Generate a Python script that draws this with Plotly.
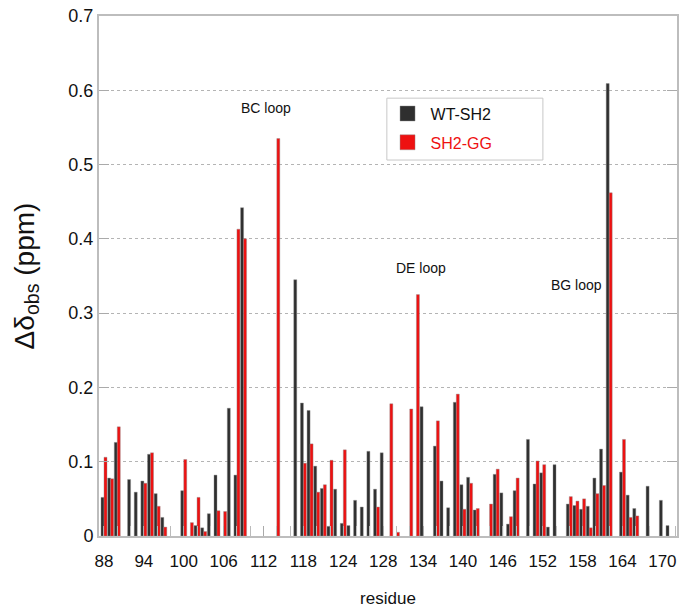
import plotly.graph_objects as go

# Bar slots along the sequence axis (one slot per residue position)
n_slots = 86
slots = list(range(n_slots))

# Chemical-shift perturbations (ppm); None = no value for that slot
wt_sh2 = [
    0.052, 0.078, 0.126, None, 0.076, 0.059, 0.074, 0.110, 0.057, 0.025,
    None, None, 0.061, None, 0.014, 0.011, 0.030, 0.082, None, 0.172,
    0.082, 0.442, None, None, None, None, None, None, None, 0.345,
    0.179, 0.169, 0.094, 0.064, 0.013, 0.063, 0.017, 0.014, 0.048, 0.039,
    0.114, 0.063, 0.112, None, None, None, None, None, 0.174, None,
    0.121, 0.074, 0.038, 0.180, 0.069, 0.079, 0.035, None, None, 0.083,
    0.058, 0.016, 0.061, None, 0.130, 0.070, 0.085, 0.012, 0.096, None,
    0.043, 0.041, 0.036, 0.040, 0.078, 0.117, 0.609, None, 0.086, 0.055,
    0.037, None, 0.067, None, 0.048, 0.014,
]

sh2_gg = [
    0.106, 0.077, 0.147, None, None, None, 0.071, 0.112, 0.040, 0.012,
    None, None, 0.103, 0.018, 0.052, 0.006, None, 0.034, 0.033, None,
    0.413, 0.400, None, None, None, None, 0.535, None, None, None,
    0.098, 0.124, 0.059, 0.069, 0.102, None, 0.116, None, None, None,
    None, 0.039, None, 0.178, 0.005, None, 0.171, 0.325, None, None,
    0.155, None, None, 0.191, 0.036, 0.071, 0.037, None, 0.043, 0.090,
    None, 0.026, 0.078, None, None, 0.101, 0.096, None, None, None,
    0.053, 0.047, 0.050, 0.011, 0.057, 0.068, 0.462, None, 0.130, 0.025,
    0.027, None, None, None, None, None,
]

tick_slots = [0, 6, 12, 18, 24, 30, 36, 42, 48, 54, 60, 66, 72, 78, 84]
tick_labels = ["88", "94", "100", "106", "112", "118", "124", "128",
               "134", "140", "146", "152", "158", "164", "170"]

loop_labels = ["BC loop", "DE loop", "BG loop"]
loop_x = [24.3, 47.7, 71.1]
loop_y = [0.576, 0.361, 0.338]

FONT = "Liberation Sans, Arial, sans-serif"
DARK = "#2f2f2f"
RED = "#ee1111"
GRID = "#b4b4b4"
EDGE = "rgba(140,140,140,0.7)"

fig = go.Figure()
fig.add_trace(go.Bar(
    x=slots, y=wt_sh2, name="WT-SH2", showlegend=False,
    marker=dict(color=DARK, line=dict(color=EDGE, width=0.6)),
))
fig.add_trace(go.Bar(
    x=slots, y=sh2_gg, name="SH2-GG", showlegend=False,
    marker=dict(color=RED, line=dict(color=EDGE, width=0.6)),
))

# Legend entries with large square swatches
for name, col, label in [("WT-SH2", DARK, "WT-SH2"),
                         ("SH2-GG", RED, "<span style='color:#ee1111'>SH2-GG</span>")]:
    fig.add_trace(go.Scatter(
        x=[None], y=[None], mode="markers", name=label, legendgroup=name,
        marker=dict(symbol="square", size=15, color=col,
                    line=dict(color=EDGE, width=0.6)),
    ))

for txt, lx, ly in zip(loop_labels, loop_x, loop_y):
    fig.add_annotation(x=lx, y=ly, text=txt, showarrow=False,
                       font=dict(family=FONT, size=14, color="#111111"))

# Legend frame
fig.add_shape(type="rect", xref="paper", yref="paper",
              x0=0.498, x1=0.768, y0=0.723, y1=0.842,
              line=dict(color="#c8c8c8", width=1), fillcolor="white", layer="below")

fig.update_layout(
    width=686, height=609,
    margin=dict(l=99, r=9, t=16, b=73),
    paper_bgcolor="white", plot_bgcolor="white",
    barmode="group", bargap=0.1, bargroupgap=0,
    font=dict(family=FONT, color="#111111"),
    showlegend=True,
    legend=dict(
        x=0.494, y=0.845, xanchor="left", yanchor="top",
        bgcolor="rgba(0,0,0,0)", borderwidth=0,
        font=dict(family=FONT, size=16, color="#111111"),
        itemwidth=36, tracegroupgap=5,
    ),
    xaxis=dict(
        range=[-0.75, 86.2], automargin=False,
        tickmode="array", tickvals=tick_slots, ticktext=tick_labels,
        ticks="inside", ticklen=10, tickcolor="#aaaaaa", tickwidth=1,
        minor=dict(tick0=0, dtick=2, ticks="inside", ticklen=10,
                   tickcolor="#bbbbbb", tickwidth=1, showgrid=False),
        tickfont=dict(family=FONT, size=17, color="#111111"),
        ticklabelstandoff=9,
        showgrid=False, zeroline=False,
        showline=True, linecolor="#bdbdbd", linewidth=2, mirror=True,
        title=dict(text="residue", font=dict(family=FONT, size=17, color="#111111"),
                   standoff=22),
    ),
    yaxis=dict(
        range=[0, 0.7], tickmode="linear", tick0=0, dtick=0.1, automargin=False,
        tickformat="~g",
        ticks="inside", ticklen=10, tickcolor="#aaaaaa", tickwidth=1,
        tickfont=dict(family=FONT, size=18, color="#111111"),
        showgrid=True, gridcolor=GRID, griddash="dot", gridwidth=1,
        zeroline=False,
        showline=True, linecolor="#bdbdbd", linewidth=2, mirror="ticks",
        title=dict(text="Δδ<sub>obs</sub> (ppm)",
                   font=dict(family=FONT, size=28, color="#111111"),
                   standoff=26),
    ),
)

fig.write_html("out.html")
